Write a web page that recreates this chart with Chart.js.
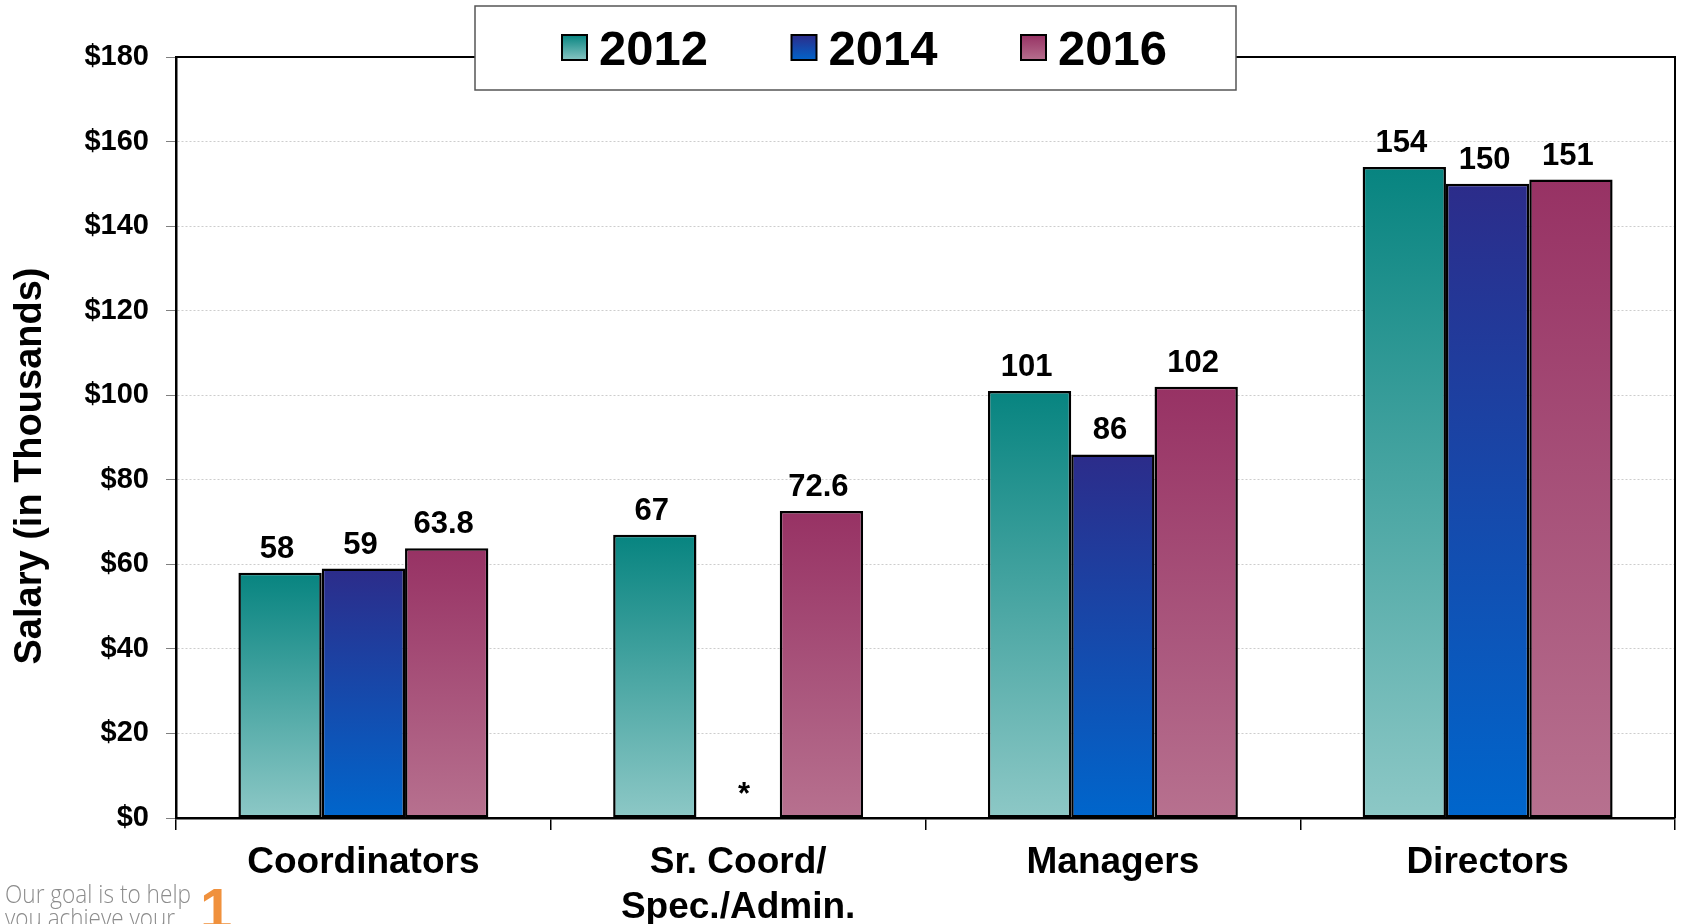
<!DOCTYPE html>
<html>
<head>
<meta charset="utf-8">
<script src="https://cdn.jsdelivr.net/npm/chart.js@4.4.1/dist/chart.umd.min.js"></script>
<style>
  html, body { margin: 0; padding: 0; background: #fff; }
  #wrap { width: 1683px; height: 924px; position: relative; }
</style>
</head>
<body>
<div id="wrap"><canvas id="salary"></canvas></div>
<script>
// salary data, in thousands
const categories = ['Coordinators', ['Sr. Coord/', 'Spec./Admin.'], 'Managers', 'Directors'];
const years = ['2012', '2014', '2016'];
const salary2012 = [58, 67, 101, 154];
const salary2014 = [59, null, 86, 150];
const salary2016 = [63.8, 72.6, 102, 151];
const yTicks = [0, 20, 40, 60, 80, 100, 120, 140, 160, 180];
const yTitle = 'Salary (in Thousands)';
const footerLines = ['Our goal is to help', 'you achieve your'];

// top / bottom colours of each year's gradient
const fills = [
  ['#078480', '#8dc8c6'],
  ['#2c2c8a', '#0066cc'],
  ['#973264', '#b7718f']
];

Chart.defaults.font.family = '"Liberation Sans", Arial, sans-serif';
Chart.defaults.color = '#000';

function barFill(top, bottom) {
  return function (ctx) {
    const chart = ctx.chart;
    const y = chart.scales.y;
    if (!chart.chartArea || !y || ctx.raw == null) return top;
    const y1 = y.getPixelForValue(ctx.raw);
    const y0 = y.getPixelForValue(0);
    if (!isFinite(y1) || !isFinite(y0) || y1 === y0) return top;
    const g = chart.ctx.createLinearGradient(0, y1, 0, y0);
    g.addColorStop(0, top);
    g.addColorStop(1, bottom);
    return g;
  };
}

const extras = {
  id: 'extras',
  afterDatasetsDraw(chart) {
    const ctx = chart.ctx;
    const y = chart.scales.y;
    ctx.save();
    ctx.fillStyle = '#000';
    ctx.textAlign = 'center';
    ctx.textBaseline = 'alphabetic';
    ctx.font = 'bold 31px "Liberation Sans", Arial';
    chart.data.datasets.forEach((ds, i) => {
      const meta = chart.getDatasetMeta(i);
      meta.data.forEach((bar, j) => {
        const v = ds.data[j];
        if (v == null) {
          // no figure for this year
          ctx.fillText('*', bar.x + 6, y.getPixelForValue(0) - 14);
        } else {
          ctx.fillText(String(v), bar.x - 3, bar.y - 15);
        }
      });
    });
    ctx.restore();
  },
  afterDraw(chart) {
    const ctx = chart.ctx;
    const a = chart.chartArea;
    ctx.save();

    // frame on top and right side
    ctx.strokeStyle = '#000';
    ctx.lineWidth = 2;
    ctx.beginPath();
    ctx.moveTo(a.left, a.top);
    ctx.lineTo(a.right, a.top);
    ctx.lineTo(a.right, a.bottom);
    ctx.stroke();

    // y axis title
    ctx.save();
    ctx.translate(31, 466);
    ctx.rotate(-Math.PI / 2);
    ctx.font = 'bold 38px "Liberation Sans", Arial';
    ctx.textAlign = 'center';
    ctx.textBaseline = 'middle';
    ctx.fillStyle = '#000';
    ctx.fillText(yTitle, 0, 0);
    ctx.restore();

    // legend box
    ctx.fillStyle = '#fff';
    ctx.fillRect(475, 6, 761, 84);
    ctx.strokeStyle = '#555';
    ctx.lineWidth = 1.5;
    ctx.strokeRect(475, 6, 761, 84);
    years.forEach((yr, i) => {
      const x = 562 + i * 229.5;
      const g = ctx.createLinearGradient(0, 35, 0, 61);
      g.addColorStop(0, fills[i][0]);
      g.addColorStop(1, fills[i][1]);
      ctx.fillStyle = g;
      ctx.fillRect(x, 35, 25, 25);
      ctx.strokeStyle = '#000';
      ctx.lineWidth = 2;
      ctx.strokeRect(x, 35, 25, 25);
      ctx.fillStyle = '#000';
      ctx.font = 'bold 49px "Liberation Sans", Arial';
      ctx.textAlign = 'left';
      ctx.textBaseline = 'alphabetic';
      ctx.fillText(yr, x + 37, 65);
    });

    // footer slogan and logo mark
    ctx.fillStyle = '#8c8c8c';
    ctx.font = '300 26px "Open Sans", "DejaVu Sans", sans-serif';
    ctx.textAlign = 'left';
    ctx.fillText(footerLines[0], 5, 903, 186);
    ctx.fillText(footerLines[1], 5, 927, 170);
    ctx.fillStyle = '#f0913d';
    ctx.font = 'bold 58px "Liberation Sans", Arial';
    ctx.fillText('1', 200, 929);
    ctx.restore();
  }
};

new Chart(document.getElementById('salary'), {
  type: 'bar',
  data: {
    labels: categories,
    datasets: years.map((yr, i) => ({
      label: yr,
      data: [salary2012, salary2014, salary2016][i],
      backgroundColor: barFill(fills[i][0], fills[i][1]),
      borderColor: '#000',
      borderWidth: 2.5,
      borderSkipped: false,
      categoryPercentage: 0.667,
      barPercentage: 1.0
    }))
  },
  options: {
    responsive: true,
    maintainAspectRatio: false,
    animation: false,
    layout: { padding: { top: 57, right: 8, left: 0, bottom: 0 } },
    plugins: {
      legend: { display: false },
      tooltip: { enabled: false }
    },
    scales: {
      x: {
        grid: { display: true, drawOnChartArea: false, color: '#000', tickLength: 12, lineWidth: 1.5 },
        border: { color: '#000', width: 2.5 },
        ticks: { font: { size: 37, weight: 'bold', lineHeight: 1.2 }, padding: 11, maxRotation: 0 },
        afterFit(scale) { scale.height = 106; }
      },
      y: {
        min: 0,
        max: 180,
        afterBuildTicks(scale) { scale.ticks = yTicks.map(v => ({ value: v })); },
        grid: { color: '#cdcdcd', tickColor: '#7f7f7f', tickLength: 10, lineWidth: 1, tickBorderDash: [] },
        border: { color: '#000', width: 2.5, dash: [2, 2] },
        ticks: {
          font: { size: 29, weight: 'bold' },
          padding: 17,
          callback: v => '$' + v
        },
        afterFit(scale) { scale.width = 176; }
      }
    }
  },
  plugins: [extras]
});
</script>
</body>
</html>
